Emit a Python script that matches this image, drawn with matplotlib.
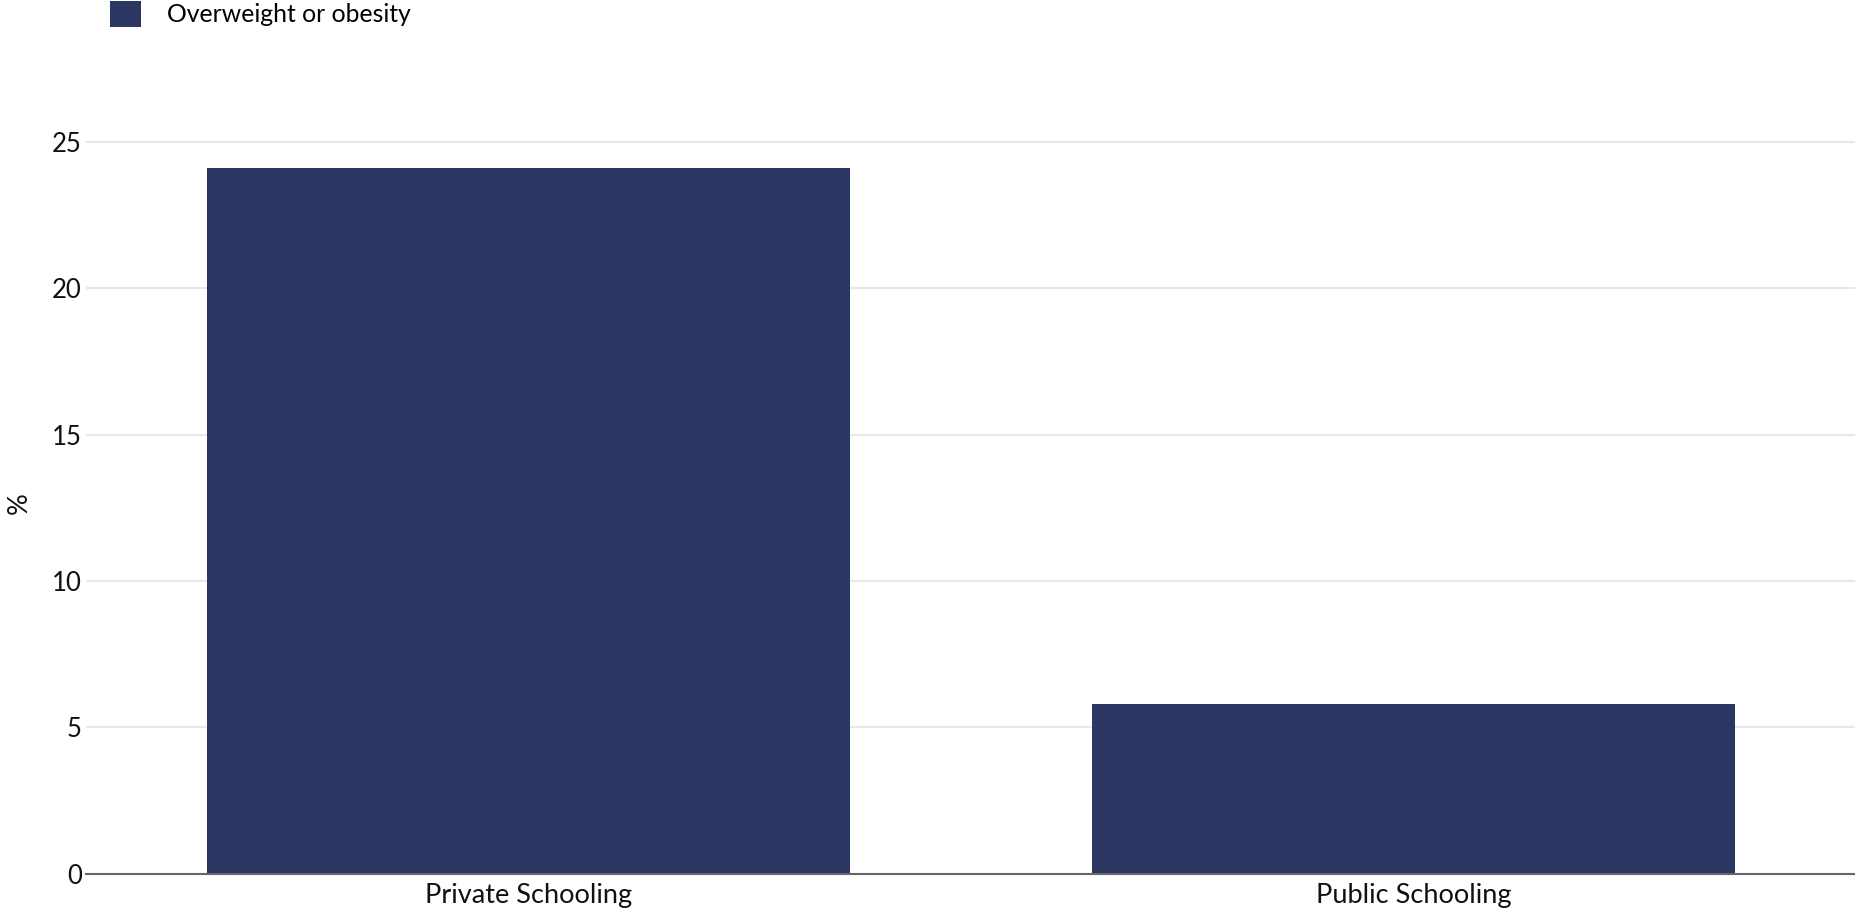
import matplotlib
matplotlib.use("Agg")
import matplotlib.pyplot as plt
from matplotlib.patches import Patch

categories = ["Private Schooling", "Public Schooling"]
values = [24.1, 5.8]
series_name = "Overweight or obesity"
yticks = [0, 5, 10, 15, 20, 25]

plt.rcParams['font.family'] = ['Lato', 'DejaVu Sans']

W, H, DPI = 1856, 915, 100
fig = plt.figure(figsize=(W / DPI, H / DPI), dpi=DPI)
ax = fig.add_axes([86 / W, (H - 873.6) / H, (W - 86) / W, 27 * 29.27 / H])

bar_color = "#2b3763"
x = list(range(len(categories)))
ax.bar(x, values, width=0.727, color=bar_color, zorder=3)

ax.set_xlim(-0.5, 1.5)
ax.set_ylim(0, 27)
ax.set_yticks(yticks)
ax.set_yticklabels([str(t) for t in yticks])
ax.set_xticks(x)
ax.set_xticklabels(categories)

ax.grid(axis='y', color='#e8e8e8', linewidth=1.5, zorder=0)
ax.grid(axis='x', visible=False)
for s in ['top', 'right', 'left']:
    ax.spines[s].set_visible(False)
ax.spines['bottom'].set_color('#666666')
ax.spines['bottom'].set_linewidth(1.5)
ax.spines['bottom'].set_zorder(4)

ax.tick_params(axis='y', length=0, pad=3, labelsize=18.5, labelcolor='#111111')
ax.tick_params(axis='x', length=0, pad=7, labelsize=19.5, labelcolor='#111111')

ax.set_ylabel("%", fontsize=19.5, color='#111111')
ax.yaxis.set_label_coords(-0.0305, 0.469)

handle = Patch(facecolor=bar_color, edgecolor='none')
fig.legend([handle], [series_name], loc='upper left',
           bbox_to_anchor=(110 / W, 1 - 1 / H), frameon=False,
           fontsize=17.8, handlelength=1.25, handleheight=1.25,
           handletextpad=1.05, borderpad=0, borderaxespad=0)

fig.savefig("out.png", dpi=DPI, facecolor='white')
